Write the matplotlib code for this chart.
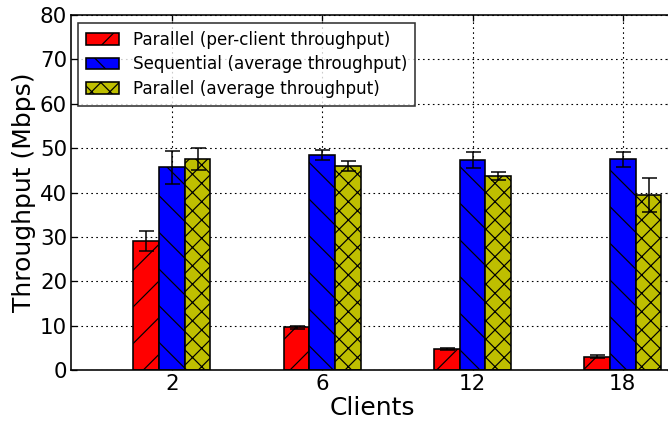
import matplotlib
matplotlib.use('Agg')
import matplotlib.pyplot as plt
import numpy as np

# Hatch spacing in Agg is tied to dpi; pick the dpi that gives the
# reference spacing and size everything else in pixels
DPI = 110


def px(p):
    return p * 72.0 / DPI


# Data
clients = ['2', '6', '12', '18']
per_client = [29.1, 9.6, 4.8, 3.0]
per_client_err = [2.2, 0.3, 0.2, 0.3]
seq_avg = [45.7, 48.45, 47.3, 47.5]
seq_avg_err = [3.7, 1.2, 1.85, 1.7]
par_avg = [47.6, 46.0, 43.7, 39.4]
par_avg_err = [2.5, 1.2, 0.95, 3.8]

plt.rcParams['font.family'] = 'DejaVu Sans'
plt.rcParams['hatch.linewidth'] = px(1.2)
plt.rcParams['xtick.direction'] = 'in'
plt.rcParams['ytick.direction'] = 'in'

fig = plt.figure(figsize=(668 / DPI, 428 / DPI), dpi=DPI)
ax = fig.add_axes([71 / 668, 58 / 428, 602 / 668, 355 / 428])

ind = np.arange(len(clients))
width = 0.171

err_kw = dict(ecolor='k', elinewidth=px(1.5), capsize=px(7.5), capthick=px(1.5))
bar_kw = dict(edgecolor='k', linewidth=px(1.6), align='edge')

ax.bar(ind, per_client, width, color='r', hatch='/', yerr=per_client_err,
       error_kw=err_kw, label='Parallel (per-client throughput)', **bar_kw)
ax.bar(ind + width, seq_avg, width, color='b', hatch='\\', yerr=seq_avg_err,
       error_kw=err_kw, label='Sequential (average throughput)', **bar_kw)
ax.bar(ind + 2 * width, par_avg, width, color='y', hatch='xx', yerr=par_avg_err,
       error_kw=err_kw, label='Parallel (average throughput)', **bar_kw)

ax.set_xlim(-0.415, 3.59)
ax.set_ylim(0, 80)
ax.set_xticks(ind + 1.5 * width)
ax.set_xticklabels(clients)
ax.set_yticks(np.arange(0, 81, 10))

ax.set_xlabel('Clients', fontsize=px(25), labelpad=px(2))
ax.set_ylabel('Throughput (Mbps)', fontsize=px(25), labelpad=px(4))

ax.tick_params(axis='both', which='major', labelsize=px(21.4), length=px(6),
               width=px(1.3), pad=px(4), top=True, right=True)
for s in ax.spines.values():
    s.set_linewidth(px(1.6))

ax.grid(True, color='k', linestyle=(0, (1.5, 3)), linewidth=px(1.1))
ax.set_axisbelow(True)

leg = ax.legend(loc='upper left', bbox_to_anchor=(7 / 602, 1 - 8 / 355),
                borderaxespad=0, fontsize=px(16.8), fancybox=False,
                labelspacing=0.4, handlelength=2.0, handletextpad=0.8,
                borderpad=0.45)
leg.get_frame().set_edgecolor('k')
leg.get_frame().set_linewidth(px(1.6))

fig.savefig('out.png', dpi=DPI)
